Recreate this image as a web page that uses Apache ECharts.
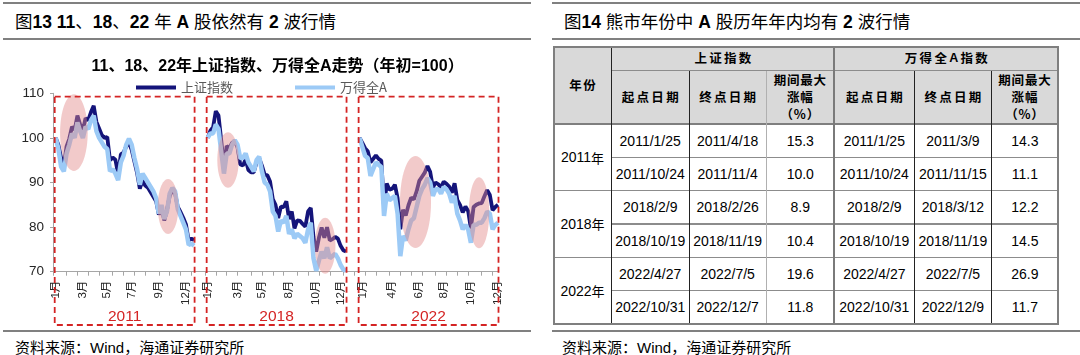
<!DOCTYPE html>
<html><head><meta charset="utf-8">
<script src="https://cdn.jsdelivr.net/npm/echarts@6/dist/echarts.min.js"></script>
<style>
html,body{margin:0;padding:0;background:#fff}
body{width:1080px;height:355px;overflow:hidden;position:relative;font-family:"Liberation Sans","Noto Sans CJK SC",sans-serif;color:#000}
.rule{position:absolute;height:2px;background:#808080}
.ttl{position:absolute;font-size:17.5px;line-height:24px;white-space:nowrap;font-family:"Liberation Sans","Noto Sans CJK SC",sans-serif}
.ttl b{font-weight:bold}
.src{position:absolute;font-size:15px;line-height:18px;white-space:nowrap;font-family:"Noto Sans CJK SC","Liberation Sans",sans-serif}
.src .lat{font-family:"Liberation Sans",sans-serif}
#chart{position:absolute;left:0;top:0;width:540px;height:355px}
.ln{position:absolute}
.cell{position:absolute;display:flex;align-items:center;justify-content:center;text-align:center;white-space:nowrap}
.hd{font-family:"Noto Sans CJK SC",sans-serif;font-weight:bold;font-size:12.5px;line-height:16.7px}
.bd{font-family:"Liberation Sans",sans-serif;font-size:14px}
.cj{font-family:"Noto Sans CJK SC",sans-serif;font-size:13px}
</style></head>
<body>
<div class="rule" style="left:3px;top:2px;width:528px"></div>
<div class="rule" style="left:3px;top:38px;width:528px"></div>
<div class="rule" style="left:3px;top:330px;width:528px"></div>
<div class="ttl" style="left:15px;top:10px">图<b>13 11</b>、<b>18</b>、<b>22</b> 年 <b>A</b> 股依然有 <b>2</b> 波行情</div>
<div class="src" style="left:15px;top:338px">资料来源：<span class="lat">Wind</span>，海通证券研究所</div>

<div class="rule" style="left:552px;top:2px;width:528px"></div>
<div class="rule" style="left:552px;top:38px;width:528px"></div>
<div class="rule" style="left:552px;top:330px;width:528px"></div>
<div class="ttl" style="left:564px;top:10px">图<b>14</b> 熊市年份中 <b>A</b> 股历年年内均有 <b>2</b> 波行情</div>
<div class="src" style="left:562px;top:338px">资料来源：<span class="lat">Wind</span>，海通证券研究所</div>

<div id="chart"></div>
<div id="tbl"></div>
<script>
// ---------------- chart data ----------------
const years = ['2011', '2018', '2022'];
const seriesNames = ['上证指数', '万得全A'];
const sh2011 = [100, 98.4, 95.5, 93.8, 98.1, 99.8, 102.5, 101.8, 105.0, 103.0, 101.7, 104.4, 104.0, 105.8, 107.2, 103.6, 102.1, 100.6, 100.0, 100.2, 95.0, 95.6, 95.1, 91.9, 96.3, 96.7, 98.1, 98.9, 97.3, 94.7, 92.1, 88.6, 90.5, 89.3, 88.8, 87.8, 86.8, 85.8, 82.8, 84.5, 81.5, 83.8, 87.0, 88.4, 87.6, 84.5, 83.4, 82.1, 80.6, 77.0, 77.4, 77.1];
const wind2011 = [100, 97.5, 93.5, 92.5, 96.5, 98.5, 101.0, 100.0, 103.5, 101.5, 100.0, 102.5, 102.0, 104.0, 105.0, 101.5, 100.0, 99.0, 98.0, 97.5, 92.5, 93.0, 92.0, 90.5, 94.5, 96.0, 98.5, 99.8, 98.5, 95.5, 93.0, 89.5, 92.0, 91.0, 90.0, 89.0, 88.0, 86.5, 83.0, 85.0, 81.8, 83.5, 87.5, 88.8, 88.0, 84.0, 82.5, 81.0, 79.5, 76.0, 76.3, 75.8];
const sh2018 = [100, 101.6, 102.4, 106.0, 105.0, 99.5, 93.5, 98.2, 97.7, 98.9, 99.3, 97.9, 94.1, 93.8, 95.2, 92.8, 92.3, 92.3, 94.5, 95.4, 93.8, 91.8, 91.6, 90.2, 86.3, 85.0, 82.0, 84.6, 84.5, 85.8, 81.8, 83.5, 79.7, 81.5, 81.4, 80.7, 80.1, 83.5, 84.3, 77.8, 74.5, 77.6, 79.9, 77.6, 80.0, 77.0, 77.3, 77.8, 77.4, 75.8, 74.8, 74.5];
const wind2018 = [100, 101.0, 101.0, 103.0, 102.0, 97.0, 92.0, 96.5, 96.5, 98.5, 99.5, 98.5, 95.5, 95.5, 96.5, 94.5, 93.5, 92.5, 95.0, 95.8, 92.5, 90.0, 89.5, 88.0, 83.5, 82.5, 79.0, 81.5, 81.0, 82.5, 78.5, 79.5, 77.5, 78.5, 78.0, 77.5, 76.5, 79.5, 81.0, 73.0, 70.2, 72.5, 74.5, 73.0, 75.5, 73.0, 73.5, 74.0, 73.0, 71.5, 70.5, 70.2];
const sh2022 = [100, 98.9, 97.7, 97.0, 94.5, 95.3, 96.1, 95.3, 94.9, 84.4, 89.8, 88.4, 88.6, 89.5, 86.5, 79.5, 83.9, 82.6, 84.9, 86.6, 86.2, 88.0, 90.4, 91.3, 92.2, 93.7, 92.4, 88.9, 90.0, 89.6, 88.9, 90.2, 89.7, 89.1, 87.7, 89.8, 86.1, 85.0, 83.3, 84.6, 83.6, 79.7, 84.5, 85.0, 85.3, 85.4, 86.9, 88.3, 87.2, 83.8, 84.5, 85.0];
const wind2022 = [100, 98.0, 96.0, 95.5, 91.5, 93.0, 94.5, 94.0, 93.5, 82.5, 87.5, 86.0, 86.5, 87.0, 83.0, 73.5, 78.0, 77.0, 79.5, 81.5, 82.0, 84.5, 87.0, 88.5, 89.5, 91.0, 90.0, 87.0, 88.5, 88.5, 87.5, 89.0, 88.5, 87.5, 85.5, 87.0, 83.0, 81.5, 79.5, 80.5, 79.5, 76.5, 80.5, 80.5, 81.0, 81.0, 82.0, 83.5, 83.0, 79.5, 80.5, 81.0];
const monthLabels2011 = ['1月', '3月', '5月', '7月', '9月', '12月'];
const monthLabels2018 = ['1月', '3月', '5月', '8月', '10月', '12月'];
const monthLabels2022 = ['1月', '4月', '6月', '8月', '10月', '12月'];
const chartTitle = '11、18、22年上证指数、万得全A走势（年初=100）';

// ---------------- table data ----------------
const tableYears = ['2011年', '2018年', '2022年'];
const shStart = ['2011/1/25', '2011/10/24', '2018/2/9', '2018/10/19', '2022/4/27', '2022/10/31'];
const shEnd = ['2011/4/18', '2011/11/4', '2018/2/26', '2018/11/19', '2022/7/5', '2022/12/7'];
const shGain = ['15.3', '10.0', '8.9', '10.4', '19.6', '11.8'];
const wdStart = ['2011/1/25', '2011/10/24', '2018/2/9', '2018/10/19', '2022/4/27', '2022/10/31'];
const wdEnd = ['2011/3/9', '2011/11/15', '2018/3/12', '2018/11/19', '2022/7/5', '2022/12/9'];
const wdGain = ['14.3', '11.1', '12.2', '14.5', '26.9', '11.7'];

// ---------------- layout (not data) ----------------
const LEAD = 1, GAP = 4;
const labelAt = [[0, 10, 19, 28, 38, 48], [0, 11, 20, 30, 40, 49], [1, 12, 22, 31, 41, 51]];
const RED = '#d42424';

const shByYear = [sh2011, sh2018, sh2022];
const wdByYear = [wind2011, wind2018, wind2022];
const monthByYear = [monthLabels2011, monthLabels2018, monthLabels2022];
const categories = [], shData = [], wdData = [], yearStart = [], yearEnd = [], labelMap = {};
function pushEmpty(n) { for (let k = 0; k < n; k++) { categories.push('gap' + categories.length); shData.push(null); wdData.push(null); } }
pushEmpty(LEAD);
years.forEach((y, yi) => {
  yearStart.push(categories.length);
  shByYear[yi].forEach((v, i) => { categories.push(y + '-' + i); shData.push(v); wdData.push(wdByYear[yi][i]); });
  yearEnd.push(categories.length - 1);
  labelAt[yi].forEach((li, k) => { labelMap[yearStart[yi] + li] = monthByYear[yi][k]; });
  if (yi < years.length - 1) pushEmpty(GAP);
});

const FONT = '"Liberation Sans","Noto Sans CJK SC",sans-serif';
const chart = echarts.init(document.getElementById('chart'), null, { renderer: 'canvas' });
const option = {
  animation: false,
  backgroundColor: 'transparent',
  grid: { left: 53, right: 42, top: 93.3, bottom: 83.3, containLabel: false, outerBoundsMode: 'none' },
  legend: {
    data: seriesNames, left: 131, top: 76, icon: 'rect', itemWidth: 40, itemHeight: 4, itemGap: 62,
    textStyle: { color: '#595959', fontSize: 13, fontFamily: '"Noto Sans CJK SC",sans-serif' }
  },
  xAxis: {
    type: 'category', data: categories, boundaryGap: false,
    axisLine: { lineStyle: { color: '#a6a6a6', width: 1 } },
    axisTick: { show: true, length: 4, interval: (i) => Math.floor(i / 4.25) !== Math.floor((i - 1) / 4.25), lineStyle: { color: '#a6a6a6' } },
    axisLabel: {
      interval: (i) => labelMap[i] !== undefined,
      formatter: (v, i) => labelMap[i] || '',
      rotate: 90, margin: 9, fontSize: 11.5, color: '#262626', fontFamily: FONT
    },
    splitLine: { show: false }
  },
  yAxis: {
    type: 'value', min: 70, max: 110, interval: 10,
    axisLine: { show: true, lineStyle: { color: '#a6a6a6' } },
    axisTick: { show: true, length: 3, lineStyle: { color: '#a6a6a6' } },
    axisLabel: { fontSize: 13.5, color: '#262626', margin: 9, fontFamily: FONT },
    splitLine: { show: false }
  },
  series: [
    { name: seriesNames[0], type: 'line', data: shData, showSymbol: false, symbol: 'none', connectNulls: false,
      lineStyle: { color: '#14147a', width: 3.8 }, itemStyle: { color: '#14147a' } },
    { name: seriesNames[1], type: 'line', data: wdData, showSymbol: false, symbol: 'none', connectNulls: false,
      lineStyle: { color: '#9ccaf6', width: 4.5 }, itemStyle: { color: '#9ccaf6' } }
  ]
};
chart.setOption(option);

function xAt(idx) {
  const a = Math.floor(idx), b = Math.ceil(idx);
  const pa = chart.convertToPixel({ gridIndex: 0 }, [a, 80])[0];
  if (a === b) return pa;
  const pb = chart.convertToPixel({ gridIndex: 0 }, [b, 80])[0];
  return pa + (pb - pa) * (idx - a);
}
function yAt(v) { return chart.convertToPixel({ gridIndex: 0 }, [0, v])[1]; }

// annotation ellipses: year index, point index within the year, value at centre, radii in px
const waveMarks = [
  { year: 0, at: 6.7, value: 101.2, rx: 13.8, ry: 38.4 },
  { year: 0, at: 41.4, value: 84.6, rx: 10.3, ry: 27.5 },
  { year: 1, at: 7.5, value: 95.05, rx: 10.7, ry: 27.7 },
  { year: 1, at: 43.3, value: 75.8, rx: 10.3, ry: 28 },
  { year: 2, at: 20.6, value: 85.6, rx: 15.5, ry: 46 },
  { year: 2, at: 44, value: 83.2, rx: 10.2, ry: 35.5 }
];
const graphics = [];
graphics.push({ type: 'text', x: 277.6, y: 66.5, z: 100,
  style: { text: chartTitle, font: 'bold 16px ' + FONT, fill: '#000', align: 'center', verticalAlign: 'middle' } });
const rectTop = yAt(109.25), rectBottom = 325;
years.forEach((y, yi) => {
  const x1 = xAt(yearStart[yi]) - 1, x2 = xAt(yearEnd[yi]) + 0.5;
  graphics.push({ type: 'rect', z: 100, shape: { x: x1, y: rectTop, width: x2 - x1, height: rectBottom - rectTop },
    style: { fill: 'none', stroke: RED, lineWidth: 1.8, lineDash: [6, 4] } });
  graphics.push({ type: 'text', z: 100, x: (x1 + x2) / 2, y: 317,
    style: { text: y, font: '15.5px ' + FONT, fill: RED, align: 'center', verticalAlign: 'middle' } });
});
waveMarks.forEach(m => {
  graphics.push({ type: 'ellipse', z: 90,
    shape: { cx: xAt(yearStart[m.year] + m.at), cy: yAt(m.value), rx: m.rx, ry: m.ry },
    style: { fill: 'rgba(226,138,138,0.45)', stroke: 'none' } });
});
chart.setOption({ graphic: graphics });

// ---------------- table ----------------
const tbl = document.getElementById('tbl');
const colX = [553.8, 611.3, 689.1, 766.2, 834.4, 914.3, 991.5, 1058.3];
const hTop = 46.7, hMid = 70.7, hBot = 124, rowH = 33.33;
const tBot = hBot + rowH * 6;
function box(x1, y1, x2, y2, css) { const d = document.createElement('div'); d.className = 'ln'; d.style.cssText = `left:${x1}px;top:${y1}px;width:${x2 - x1}px;height:${y2 - y1}px;` + css; tbl.appendChild(d); }
function cell(html, x1, x2, y1, y2, cls, extra) { const d = document.createElement('div'); d.className = 'cell ' + cls; d.style.cssText = `left:${x1}px;top:${y1}px;width:${x2 - x1}px;height:${y2 - y1}px;` + (extra || ''); d.innerHTML = html; tbl.appendChild(d); }
// header background
box(colX[0], hTop, colX[7], hBot, 'background:#d9d9d9;');
// horizontal lines
box(colX[1], hMid - 0.75, colX[7], hMid + 0.75, 'background:#8c8c8c;');
box(colX[0], hBot - 1, colX[7], hBot + 1, 'background:#7f7f7f;');
for (let r = 1; r < 6; r++) {
  const y = hBot + rowH * r;
  const x1 = (r % 2 === 0) ? colX[0] : colX[1];
  box(x1, y - 0.75, colX[7], y + 0.75, 'background:#8c8c8c;');
}
// vertical lines
box(colX[1] - 0.5, hTop, colX[1] + 0.5, tBot, 'background:#222;');
box(colX[2] - 0.5, hMid, colX[2] + 0.5, tBot, 'background:#222;');
box(colX[3] - 0.5, hMid, colX[3] + 0.5, tBot, 'background:#b0b0b0;');
box(colX[4] - 1, hTop, colX[4] + 1, tBot, 'background:#7a7a7a;');
box(colX[5] - 0.5, hMid, colX[5] + 0.5, tBot, 'background:#222;');
box(colX[6] - 0.5, hMid, colX[6] + 0.5, tBot, 'background:#222;');
// outer border
box(colX[0] - 1, hTop - 1, colX[7] + 1, tBot + 1, 'border:2px solid #7f7f7f;box-sizing:border-box;');
// header texts
const sp = 'letter-spacing:2.3px;padding-left:2.3px;box-sizing:border-box;';
cell('年份', colX[0], colX[1], hTop, hBot, 'hd', 'letter-spacing:1.5px;padding-left:1.5px;box-sizing:border-box;');
cell('上证指数', colX[1], colX[4], hTop, hMid, 'hd', sp);
cell('万得全<span style="font-family:Liberation Sans">A</span>指数', colX[4], colX[7], hTop, hMid, 'hd', sp);
const sub = ['起点日期', '终点日期', '期间最大<br>涨幅<br>（%）'];
[0, 1].forEach(g => {
  sub.forEach((t, k) => {
    const c = 1 + g * 3 + k;
    cell(t, colX[c], colX[c + 1], hMid, hBot, 'hd', k < 2 ? sp : 'letter-spacing:0.8px;');
  });
});
// body
tableYears.forEach((t, i) => {
  const m = t.match(/^(\d+)(.*)$/);
  cell(m[1] + '<span class="cj">' + m[2] + '</span>', colX[0], colX[1], hBot + rowH * 2 * i, hBot + rowH * 2 * (i + 1), 'bd');
});
const cols = [shStart, shEnd, shGain, wdStart, wdEnd, wdGain];
cols.forEach((arr, c) => {
  arr.forEach((t, r) => cell(t, colX[c + 1], colX[c + 2], hBot + rowH * r, hBot + rowH * (r + 1), 'bd'));
});
</script>
</body></html>
